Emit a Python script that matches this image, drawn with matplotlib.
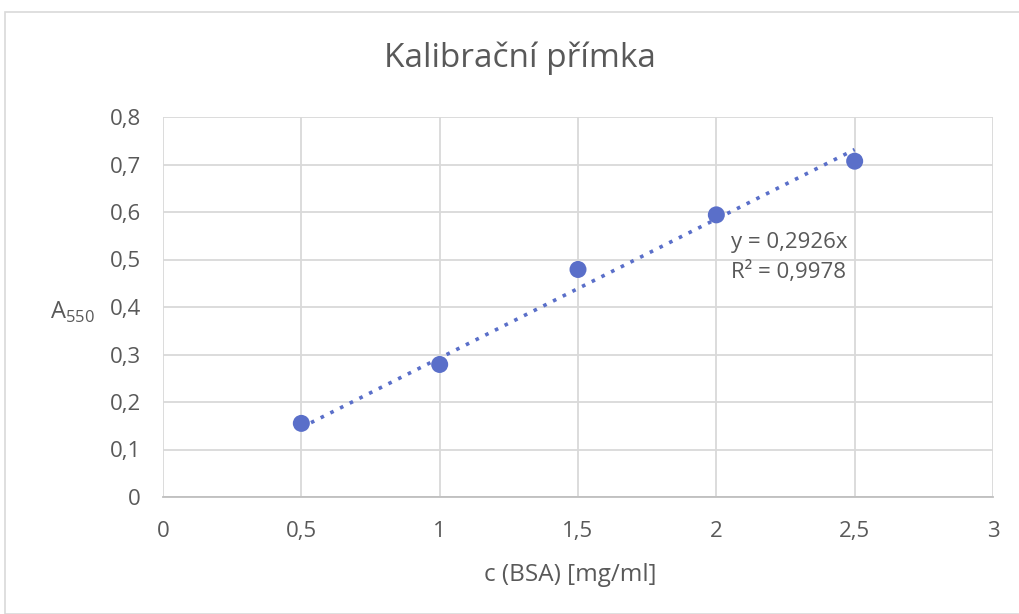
import matplotlib
matplotlib.use("Agg")
import matplotlib.pyplot as plt
from matplotlib.patches import Rectangle
import numpy as np

conc = [0.5, 1.0, 1.5, 2.0, 2.5]
absorb = [0.155, 0.279, 0.479, 0.594, 0.707]
slope = 0.2926
r2 = 0.9978
xticks = [0, 0.5, 1, 1.5, 2, 2.5, 3]
yticks = [0, 0.1, 0.2, 0.3, 0.4, 0.5, 0.6, 0.7, 0.8]

plt.rcParams['font.family'] = ['Open Sans', 'DejaVu Sans']
fig = plt.figure(figsize=(10.19, 6.14), dpi=100)
fig.patches.append(Rectangle((5/1019, 0), 1.0, 1 - 12/614, transform=fig.transFigure,
                             fill=False, edgecolor='#D9D9D9', linewidth=1.2))
ax = fig.add_axes([163/1019, 1 - 497/614, 830/1019, 380/614])
color = '#5A6FC9'
txt = '#595959'

ax.set_xlim(0, 3)
ax.set_ylim(0, 0.8)
ax.set_xticks(xticks)
ax.set_yticks(yticks)
fmt = lambda v: ('%g' % v).replace('.', ',')
ax.set_xticklabels([fmt(v) for v in xticks], fontsize=16, color=txt)
ax.set_yticklabels([fmt(v) for v in yticks], fontsize=16, color=txt)
ax.tick_params(axis='x', length=0, pad=17)
ax.tick_params(axis='y', length=0, pad=16)
ax.grid(True, color='#D9D9D9', linewidth=1.3)
ax.set_axisbelow(True)
for s in ['top', 'right', 'left']:
    ax.spines[s].set_visible(False)
ax.spines['bottom'].set_color('#BFBFBF')
ax.spines['bottom'].set_linewidth(1.3)

xs = np.array([conc[0], conc[-1]])
ax.plot(xs, slope * xs, linestyle=(0, (1, 2)), color=color, linewidth=2.6, zorder=2)
ax.scatter(conc, absorb, s=150, color=color, zorder=3, edgecolors='none')

ax.text(2.053, 0.535, 'y = ' + ('%g' % slope).replace('.', ',') + 'x',
        fontsize=16, color=txt, va='center', ha='left')
ax.text(2.053, 0.473, 'R² = ' + ('%g' % r2).replace('.', ','),
        fontsize=16, color=txt, va='center', ha='left')

fig.text(520/1019, 1 - 58/614, 'Kalibrační přímka', fontsize=24, color=txt,
         ha='center', va='center')
fig.text(570/1019, 1 - 575/614, 'c (BSA) [mg/ml]', fontsize=17.5, color=txt,
         ha='center', va='center')
fig.text(50/1019, 1 - 312/614, r'A$_{\mathregular{550}}$', fontsize=17, color=txt,
         ha='left', va='center')

fig.savefig('out.png', dpi=100)
